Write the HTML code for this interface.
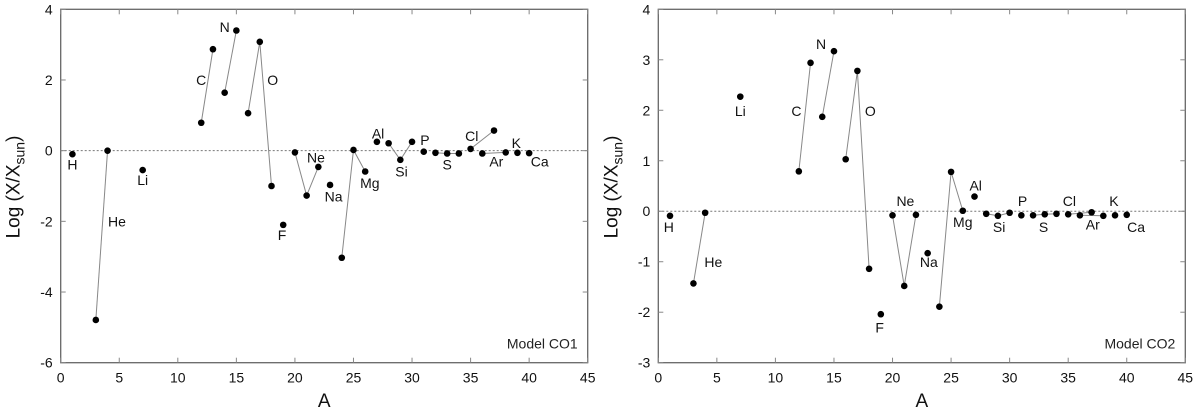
<!DOCTYPE html>
<html><head><meta charset="utf-8"><style>
html,body{margin:0;padding:0;background:#fff;}
svg{display:block;font-family:"Liberation Sans",sans-serif;}
</style></head><body>
<svg id="chart" width="1200" height="414" viewBox="0 0 1200 414"></svg>
<script>
// ---- data ----
const massNumbers = [1,3,4,7,12,13,14,15,16,17,18,19,20,21,22,23,24,25,26,27,28,29,30,31,32,33,34,35,36,37,38,39,40];
const co1Values = [-0.10,-4.79,0.00,-0.55,0.79,2.87,1.64,3.40,1.06,3.08,-1.00,-2.10,-0.05,-1.27,-0.46,-0.97,-3.03,0.02,-0.59,0.25,0.21,-0.26,0.25,-0.03,-0.06,-0.08,-0.08,0.05,-0.08,0.57,-0.05,-0.06,-0.07];
const co2Values = [-0.09,-1.43,-0.03,2.27,0.79,2.94,1.87,3.17,1.03,2.78,-1.14,-2.04,-0.08,-1.48,-0.07,-0.83,-1.89,0.78,0.01,0.29,-0.05,-0.09,-0.03,-0.08,-0.08,-0.06,-0.05,-0.06,-0.08,-0.02,-0.09,-0.08,-0.07];
// connected isotope chains (mass numbers)
const chains = [[3,4],[12,13],[14,15],[16,17,18],[20,21,22],[24,25,26],[28,29,30],[32,33,34],[35,37],[36,38]];
const elementNames = ["H","He","Li","C","N","O","F","Ne","Na","Mg","Al","Si","P","S","Cl","Ar","K","Ca"];
const co1LabelA = [1.0,4.8,7.0,12.0,14.0,18.1,18.9,21.8,23.3,26.4,27.1,29.1,31.1,33.0,35.1,37.2,38.9,40.9];
const co1LabelY = [-0.39,-2.0,-0.83,2.0,3.5,2.0,-2.39,-0.19,-1.3,-0.92,0.49,-0.59,0.30,-0.39,0.42,-0.31,0.21,-0.31];
const co2LabelA = [0.9,4.7,7.0,11.8,13.9,18.1,18.9,21.1,23.1,26.0,27.1,29.1,31.1,32.9,35.1,37.1,38.9,40.8];
const co2LabelY = [-0.31,-1.01,1.99,1.99,3.31,1.99,-2.30,0.20,-1.01,-0.21,0.51,-0.31,0.20,-0.31,0.20,-0.26,0.20,-0.31];
const xTicks = [0,5,10,15,20,25,30,35,40,45];
const co1YTicks = [-6,-4,-2,0,2,4];
const co2YTicks = [-3,-2,-1,0,1,2,3,4];

const NS = "http://www.w3.org/2000/svg";
const svg = document.getElementById("chart");
function mk(tag, attrs, parent, text){
  const e = document.createElementNS(NS, tag);
  for (const k in attrs) e.setAttribute(k, attrs[k]);
  if (text !== undefined) e.textContent = text;
  (parent||svg).appendChild(e);
  return e;
}

function panel(cfg){
  const g = mk("g", {});
  
  
  const L = cfg.left, R = cfg.left + 527, T = 9.3, B = 362.7;
  const x = a => L + (a - 0) / 45 * (R - L);
  const y = v => B - (v - cfg.yMin) / (cfg.yMax - cfg.yMin) * (B - T);

  const zl = mk("line", {x1:L, x2:R, y1:y(0), y2:y(0), stroke:"#777", "stroke-width":1, "stroke-dasharray":"2,2"}, g);
  
  

  const fr = mk("rect", {x:L, y:T, width:R-L, height:B-T, fill:"none", stroke:"#666", "stroke-width":1.3}, g);
  
  

  xTicks.forEach(t => {
    const px = x(t);
    mk("line", {x1:px, x2:px, y1:B, y2:B-5, stroke:"#888"}, g);
    mk("line", {x1:px, x2:px, y1:T, y2:T+5, stroke:"#888"}, g);
    const tl = mk("text", {x:px, y:B+20, "text-anchor":"middle", "font-size":14, fill:"#111"}, g, String(t));
    
    
  });
  cfg.yTicks.forEach(t => {
    const py = y(t);
    mk("line", {x1:L, x2:L+5, y1:py, y2:py, stroke:"#888"}, g);
    mk("line", {x1:R, x2:R-5, y1:py, y2:py, stroke:"#888"}, g);
    const tl = mk("text", {x:L-8, y:py+5, "text-anchor":"end", "font-size":14, fill:"#111"}, g, String(t));
    
    
  });

  chains.forEach(ch => {
    const pts = ch.map(a => { const i = massNumbers.indexOf(a); return x(a)+","+y(cfg.values[i]); }).join(" ");
    const pl = mk("polyline", {points:pts, fill:"none", stroke:"#888", "stroke-width":1}, g);
    
    
  });
  massNumbers.forEach((a, i) => {
    const c = mk("circle", {cx:x(a), cy:y(cfg.values[i]), r:3.3, fill:"#000"}, g);
    
    
  });
  elementNames.forEach((n, i) => {
    const t = mk("text", {x:x(cfg.labA[i]), y:y(cfg.labY[i])+5, "text-anchor":"middle", "font-size":14, fill:"#111"}, g, n);
    
    
  });
  const mt = mk("text", {x:R-10, y:B-14, "text-anchor":"end", "font-size":14, fill:"#222"}, g, cfg.model);
  
  

  const xt = mk("text", {x:(L+R)/2, y:407, "text-anchor":"middle", "font-size":19, fill:"#111"}, g, "A");
  
  
  const yt = mk("text", {x:0, y:0, "text-anchor":"middle", "font-size":19, fill:"#111", transform:"translate("+(cfg.left-41)+",187) rotate(-90)"}, g);
  
  
  mk("tspan", {}, yt, "Log (X/X");
  mk("tspan", {"font-size":14, dy:5}, yt, "sun");
  mk("tspan", {dy:-5}, yt, ")");
}

panel({name:"panel-model-co1", left:60.7, yMin:-6, yMax:4, yTicks:co1YTicks, values:co1Values, labA:co1LabelA, labY:co1LabelY, model:"Model CO1"});
panel({name:"panel-model-co2", left:658.3, yMin:-3, yMax:4, yTicks:co2YTicks, values:co2Values, labA:co2LabelA, labY:co2LabelY, model:"Model CO2"});
</script>
</body></html>
